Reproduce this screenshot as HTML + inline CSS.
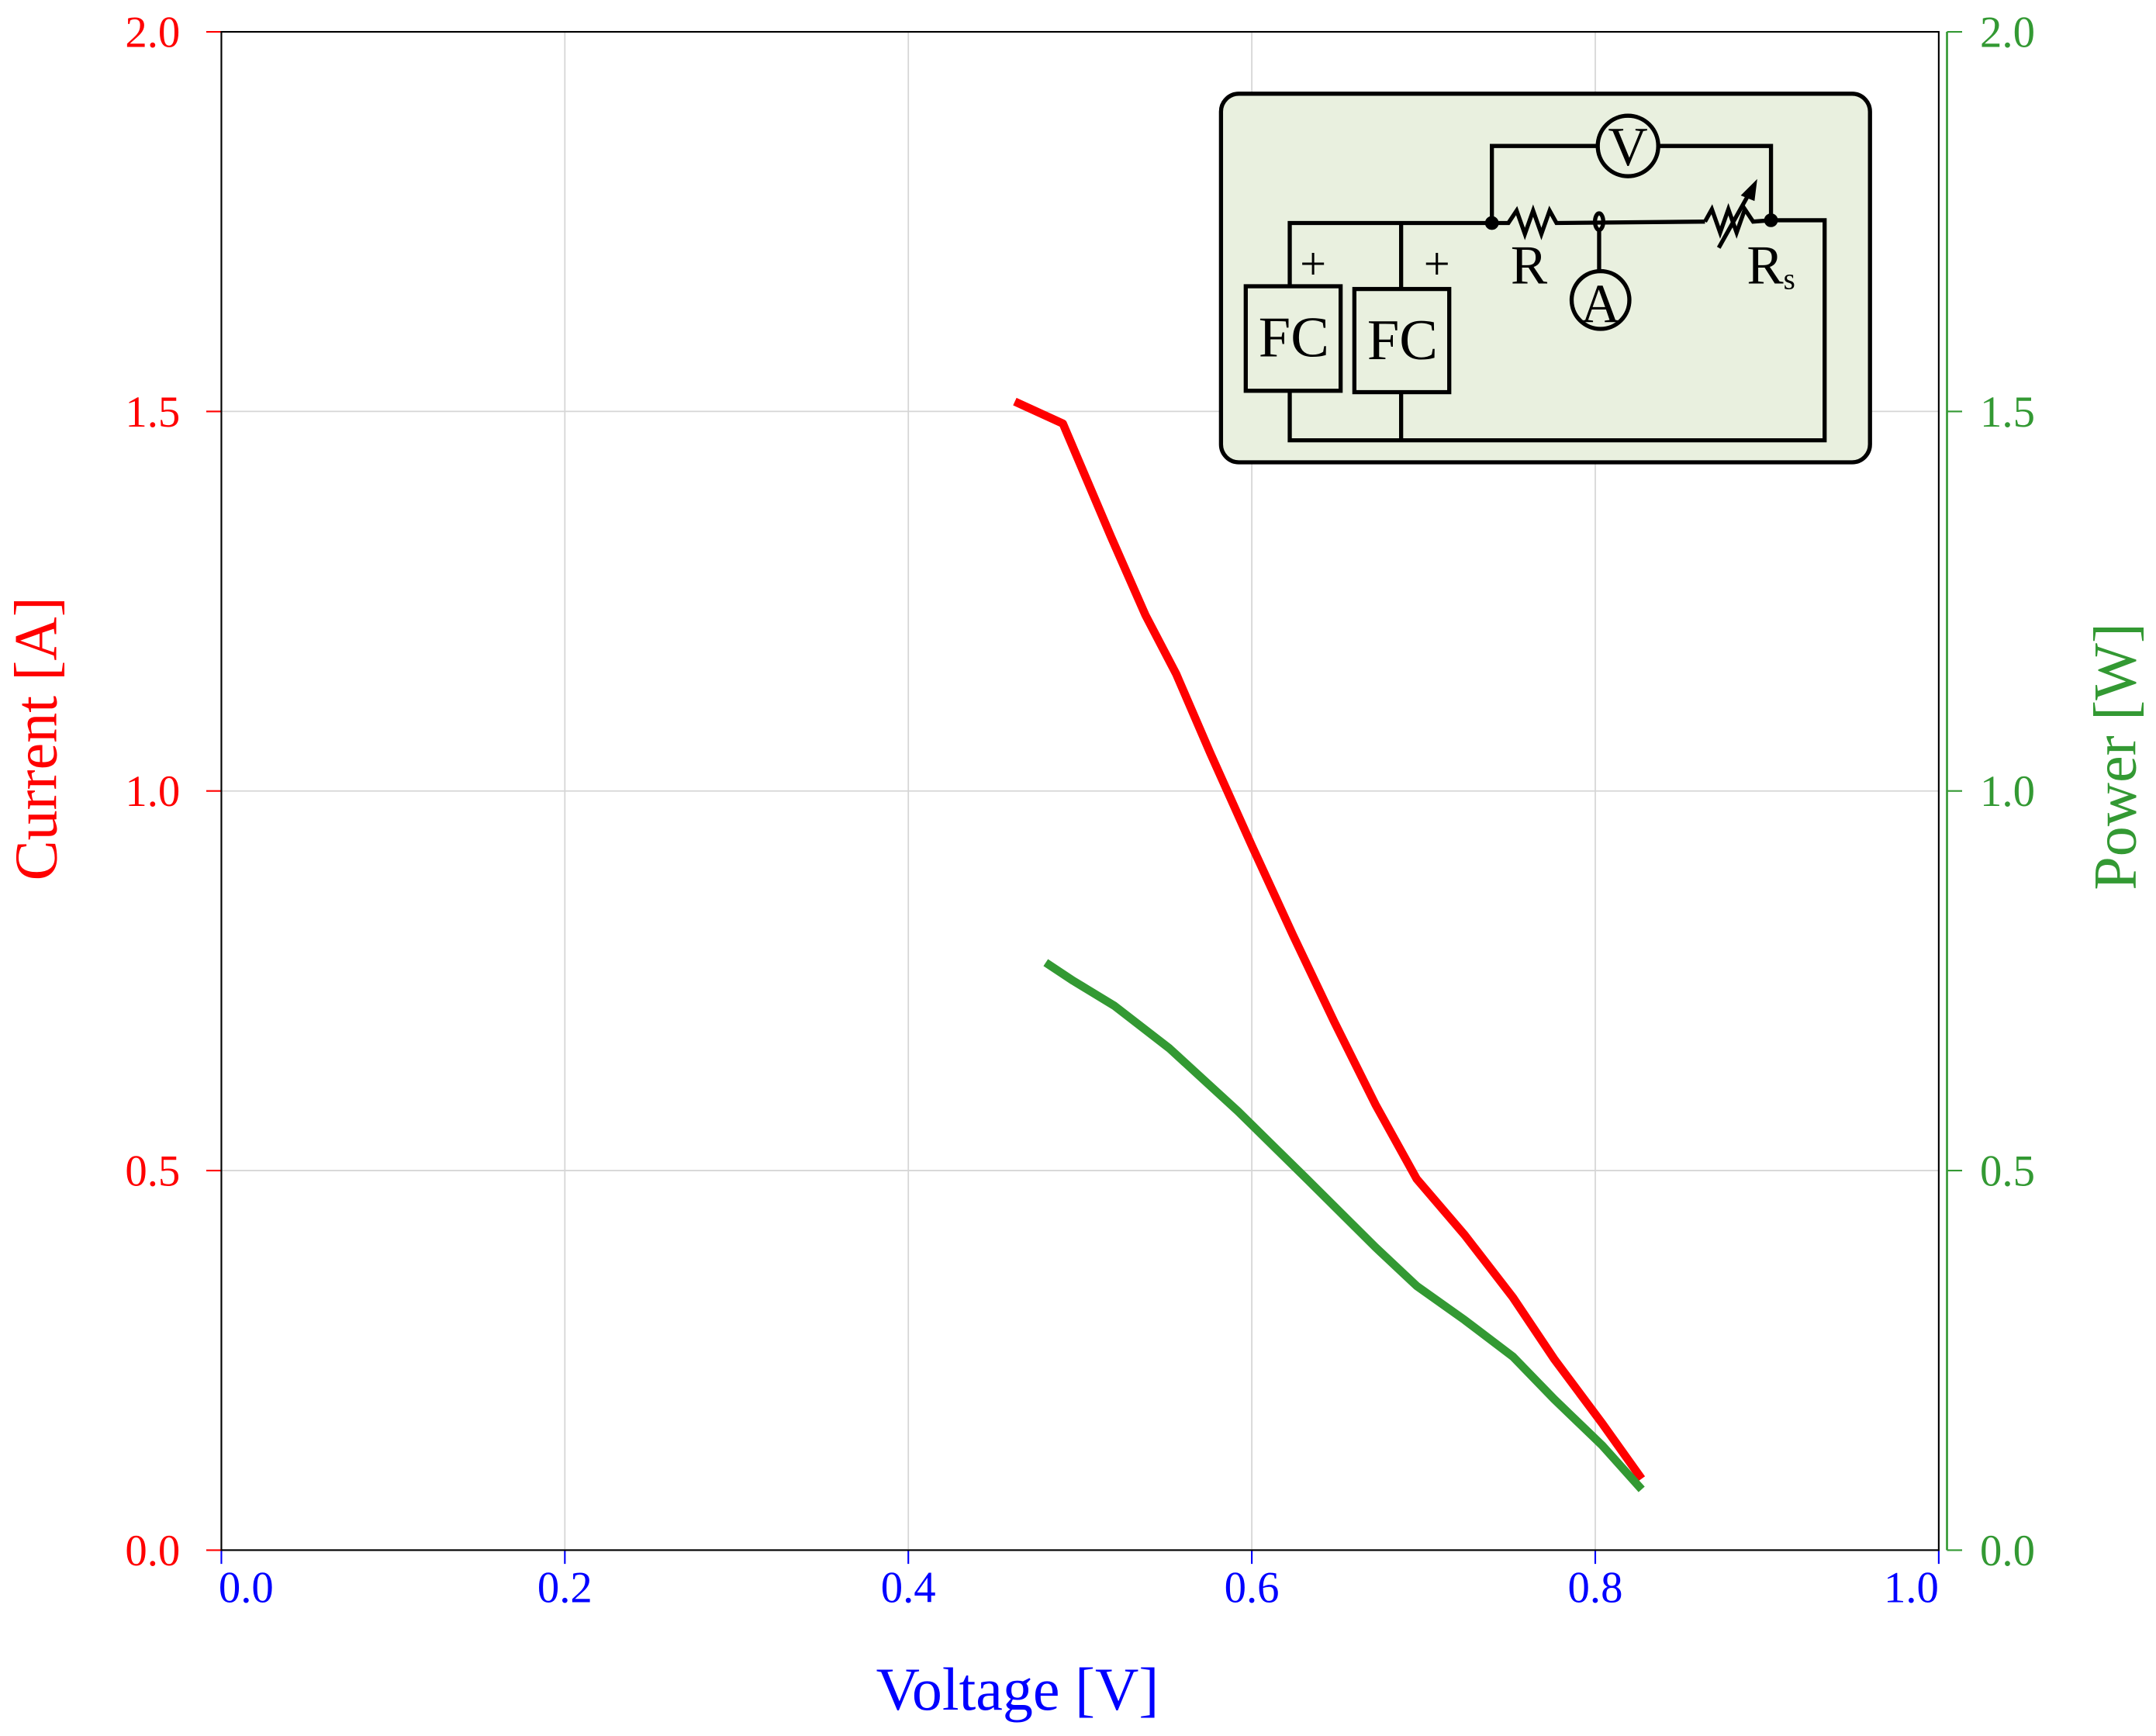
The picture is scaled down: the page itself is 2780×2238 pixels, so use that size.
<!DOCTYPE html>
<html><head><meta charset="utf-8"><style>
html,body{margin:0;padding:0;background:#fff;}
svg{display:block;}
text{font-family:"Liberation Serif",serif;}
</style></head><body>
<svg id="chart" width="2780" height="2238" viewBox="0 0 1568 1262" xmlns="http://www.w3.org/2000/svg">
<g id="grid"></g>
<g id="axes"></g>
<g id="series"></g>
<g id="inset" stroke="#000" stroke-width="3" fill="none">
  <rect x="888" y="68" width="472" height="268" rx="13" fill="#e9f0df"/>
  <polyline points="938,208 938,162 1085,162"/>
  <line x1="1019" y1="162" x2="1019" y2="210"/>
  <rect x="906" y="208" width="69" height="76"/>
  <rect x="985" y="210" width="69" height="75"/>
  <polyline points="938,284 938,320 1327,320 1327,160 1288,160"/>
  <line x1="1019" y1="285" x2="1019" y2="320"/>
  <polyline points="1085,162 1097,162 1103,153 1109,170 1115,153 1121,170 1127,153 1132,162 1240,161"/>
  <ellipse cx="1163" cy="161" rx="3" ry="6"/>
  <line x1="1163" y1="167" x2="1163" y2="197"/>
  <circle cx="1164" cy="218" r="21"/>
  <polyline points="1240,161 1245,152 1251,169 1257,152 1263,169 1269,152 1275,161 1288,160"/>
  <line x1="1250" y1="180" x2="1273" y2="139"/>
  <polygon points="1278,130 1266,142 1276,146" fill="#000" stroke="none"/>
  <polyline points="1085,162 1085,106 1162,106"/>
  <polyline points="1206,106 1288,106 1288,160"/>
  <circle cx="1184" cy="106" r="22"/>
  <circle cx="1085" cy="162" r="3.5" fill="#000"/>
  <circle cx="1288" cy="160" r="3.5" fill="#000"/>
  <g stroke="none" fill="#000" text-anchor="middle">
    <text x="955" y="203" font-size="34">+</text>
    <text x="1045" y="203" font-size="34">+</text>
    <text x="941" y="259" font-size="42">FC</text>
    <text x="1020" y="261" font-size="42">FC</text>
    <text x="1112" y="206" font-size="40">R</text>
    <text x="1288" y="206" font-size="40">R<tspan font-size="22" dy="4">s</tspan></text>
    <text x="1184" y="120" font-size="40">V</text>
    <text x="1164" y="234" font-size="40">A</text>
  </g>
</g>
</svg>
<script>
const xTicks=[0.0,0.2,0.4,0.6,0.8,1.0];
const xTickLabels=["0.0","0.2","0.4","0.6","0.8","1.0"];
const yTicks=[0.0,0.5,1.0,1.5,2.0];
const yTickLabels=["0.0","0.5","1.0","1.5","2.0"];
const voltageCurrent=[0.462,0.490,0.518,0.538,0.556,0.576,0.600,0.624,0.648,0.672,0.696,0.724,0.752,0.776,0.804,0.827];
const current=[1.513,1.484,1.335,1.232,1.154,1.049,0.928,0.810,0.696,0.587,0.489,0.415,0.333,0.252,0.167,0.094];
const voltagePower=[0.480,0.496,0.520,0.552,0.592,0.632,0.672,0.696,0.724,0.752,0.776,0.804,0.827];
const power=[0.774,0.750,0.717,0.661,0.578,0.489,0.399,0.348,0.303,0.255,0.199,0.138,0.080];

const L=161,R=1410,T=23,B=1127;
const NS="http://www.w3.org/2000/svg";
function sx(v){return L+(v-0)/(1-0)*(R-L);}
function sy(v){return B-(v-0)/(2-0)*(B-T);}
function mk(tag,attrs,parent,text){const e=document.createElementNS(NS,tag);for(const k in attrs)e.setAttribute(k,attrs[k]);if(text!==undefined)e.textContent=text;parent.appendChild(e);return e;}
const grid=document.getElementById('grid'),axes=document.getElementById('axes'),series=document.getElementById('series');
xTicks.forEach((v,i)=>{
  const g=mk('line',{x1:sx(v),x2:sx(v),y1:T,y2:B,stroke:'#d6d6d6','stroke-width':1},grid);
  
  
  const t=mk('line',{x1:sx(v),x2:sx(v),y1:B,y2:B+10,stroke:'#0000ff','stroke-width':1.2},axes);
  
  
  const anchor=i===0?'start':'middle';
  const lb=mk('text',{x:i===0?sx(v)-2:sx(v)+(i===xTicks.length-1?-20:0),y:B+38,fill:'#0000ff','font-size':32,'text-anchor':anchor},axes,xTickLabels[i]);
  
  
});
yTicks.forEach((v,i)=>{
  const g=mk('line',{x1:L,x2:R,y1:sy(v),y2:sy(v),stroke:'#d6d6d6','stroke-width':1},grid);
  
  
  const t=mk('line',{x1:L-11,x2:L,y1:sy(v),y2:sy(v),stroke:'#ff0000','stroke-width':1.2},axes);
  
  
  const lb=mk('text',{x:131,y:sy(v)+11,fill:'#ff0000','font-size':32,'text-anchor':'end'},axes,yTickLabels[i]);
  
  
  const t2=mk('line',{x1:1416,x2:1427,y1:sy(v),y2:sy(v),stroke:'#339933','stroke-width':1.2},axes);
  
  
  const lb2=mk('text',{x:1440,y:sy(v)+11,fill:'#339933','font-size':32},axes,yTickLabels[i]);
  
  
});
const frame=mk('rect',{x:L,y:T,width:R-L,height:B-T,fill:'none',stroke:'#000','stroke-width':1.2},axes);


const rax=mk('line',{x1:1416,x2:1416,y1:T,y2:B,stroke:'#339933','stroke-width':1.5},axes);


const xt=mk('text',{x:740,y:1243,fill:'#0000ff','font-size':44,'text-anchor':'middle'},axes,'Voltage [V]');


const yt=mk('text',{x:0,y:0,fill:'#ff0000','font-size':44,'text-anchor':'middle',transform:'translate(41,537) rotate(-90)'},axes,'Current [A]');


const yt2=mk('text',{x:0,y:0,fill:'#339933','font-size':44,'text-anchor':'middle',transform:'translate(1553,550) rotate(-90)'},axes,'Power [W]');


const cl=mk('polyline',{points:voltageCurrent.map((v,i)=>sx(v)+','+sy(current[i])).join(' '),fill:'none',stroke:'#ff0000','stroke-width':6,'stroke-linejoin':'round'},series);


const pl=mk('polyline',{points:voltagePower.map((v,i)=>sx(v)+','+sy(power[i])).join(' '),fill:'none',stroke:'#339933','stroke-width':6,'stroke-linejoin':'round'},series);


</script>
</body></html>
